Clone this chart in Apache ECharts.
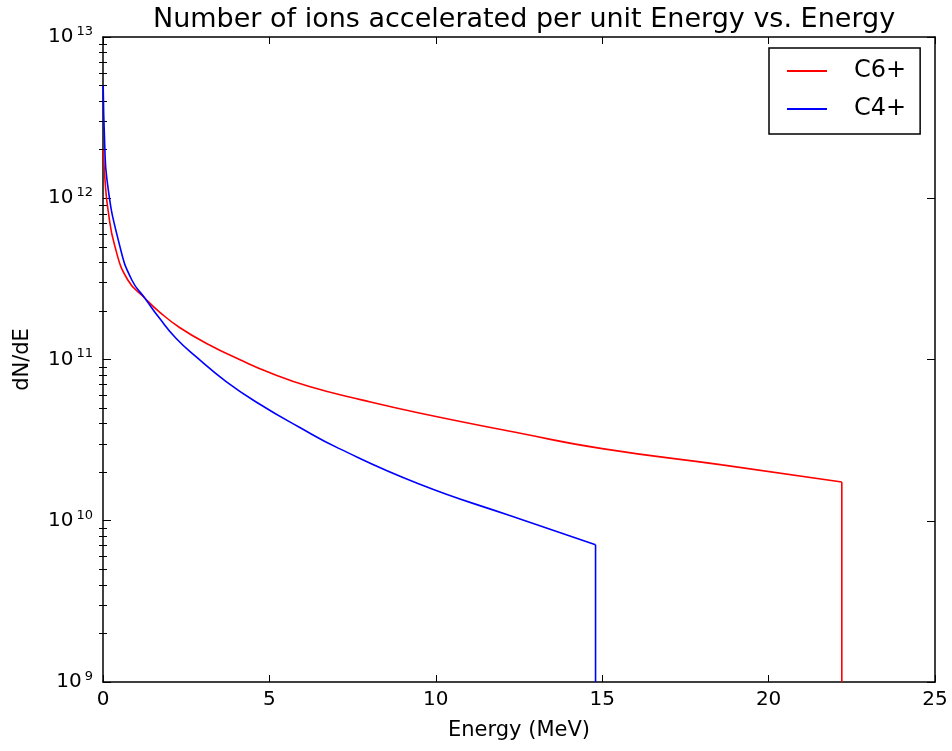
<!DOCTYPE html>
<html lang="en">
<head>
    <meta charset="UTF-8">
    <title>Number of ions accelerated per unit Energy vs. Energy</title>
    <script src="https://cdn.jsdelivr.net/npm/echarts@6/dist/echarts.min.js"></script>
</head>
<body style="margin:0;background:#fff;">
<div id="main" style="width:952px;height:751px;"></div>
<script>
    // C6+ spectrum (MeV, dN/dE)
    var energyC6 = [0.01, 0.06, 0.15, 0.36, 0.75, 1.26, 1.7, 2.3, 3.2, 4.1, 5.0, 6.2, 7.8, 9.5, 12.5, 15.0, 18.6, 22.2];
    var dndeC6 = [2.0e12, 1.3e12, 8.5e11, 5.0e11, 3.1e11, 2.4e11, 1.97e11, 1.58e11, 1.23e11, 1.0e11, 8.3e10, 6.8e10, 5.6e10, 4.66e10, 3.5e10, 2.8e10, 2.22e10, 1.74e10];
    var cutoffC6 = [[22.2, 1.74e10], [22.2, 1e9]];

    // C4+ spectrum
    var energyC4 = [0.005, 0.05, 0.12, 0.51, 0.87, 1.26, 1.7, 2.2, 2.82, 3.7, 4.7, 5.9, 7.1, 9.5, 12.2, 14.8];
    var dndeC4 = [5.0e12, 2.2e12, 1.3e12, 5.0e11, 3.1e11, 2.4e11, 1.8e11, 1.35e11, 1.03e11, 7.3e10, 5.3e10, 3.8e10, 2.8e10, 1.69e10, 1.08e10, 7.1e9];
    var cutoffC4 = [[14.8, 7.1e9], [14.8, 1e9]];

    var seriesNames = ['C6+', 'C4+'];
    var seriesColors = ['#ff0000', '#0000ff'];
    var xTicks = [0, 5, 10, 15, 20, 25];

    // minor log ticks (2..9 x 10^n), as exponents for the helper axes
    var minorTicks = [];
    for (var n = 9; n < 13; n++) {
        for (var k = 2; k < 10; k++) minorTicks.push(n + Math.log10(k));
    }

    function pairs(xs, ys) {
        return xs.map(function (x, i) { return [x, ys[i]]; });
    }

    var font = 'DejaVu Sans';
    var black = '#000';

    var chart = echarts.init(document.getElementById('main'));

    var frameLine = {show: true, onZero: false, lineStyle: {color: black, width: 1.5}};

    function curve(name, color, data, smooth) {
        return {
            name: name,
            type: 'line',
            xAxisIndex: 0,
            yAxisIndex: 0,
            symbol: 'none',
            smooth: smooth,
            clip: true,
            data: data,
            lineStyle: {color: color, width: 1.6},
            itemStyle: {color: color}
        };
    }

    option = {
        backgroundColor: '#fff',
        animation: false,
        textStyle: {fontFamily: font, color: black},
        title: {
            text: 'Number of ions accelerated per unit Energy vs. Energy',
            left: 148,
            top: 1,
            textStyle: {fontFamily: font, fontSize: 27, fontWeight: 'normal', color: black}
        },
        grid: {left: 103, right: 17, top: 37, bottom: 69, containLabel: false},
        legend: {
            data: seriesNames,
            orient: 'vertical',
            left: 769,
            top: 48,
            padding: [11, 14, 13, 18],
            icon: 'rect',
            itemWidth: 40,
            itemHeight: 2,
            itemGap: 14,
            borderColor: black,
            borderWidth: 1.5,
            borderRadius: 0,
            backgroundColor: '#fff',
            textStyle: {fontFamily: font, fontSize: 24, color: black, lineHeight: 24, padding: [0, 0, 0, 22]}
        },
        xAxis: [
            {
                type: 'value', position: 'bottom', min: xTicks[0], max: xTicks[xTicks.length - 1], interval: 5,
                name: 'Energy (MeV)', nameLocation: 'middle', nameGap: 38,
                nameTextStyle: {fontFamily: font, fontSize: 21, color: black},
                axisLine: frameLine,
                axisTick: {inside: true, length: 7, lineStyle: {color: black, width: 1}},
                axisLabel: {fontFamily: font, fontSize: 20, color: black, margin: 8},
                splitLine: {show: false}
            },
            {
                type: 'value', position: 'top', min: 0, max: 25, interval: 5,
                axisLine: frameLine,
                axisTick: {inside: true, length: 7, lineStyle: {color: black, width: 1}},
                axisLabel: {show: false},
                splitLine: {show: false}
            }
        ],
        yAxis: [
            {
                type: 'log', logBase: 10, position: 'left', min: 1e9, max: 1e13,
                name: 'dN/dE', nameLocation: 'middle', nameGap: 70,
                nameTextStyle: {fontFamily: font, fontSize: 21, color: black},
                axisLine: frameLine,
                axisTick: {inside: true, length: 8, lineStyle: {color: black, width: 1}},
                axisLabel: {
                    margin: 10,
                    formatter: function (v) {
                        return '{b|10}{s|' + Math.round(Math.log10(v)) + '}';
                    },
                    rich: {
                        b: {fontFamily: font, fontSize: 20, color: black, lineHeight: 24},
                        s: {fontFamily: font, fontSize: 13, color: black, verticalAlign: 'top', lineHeight: 13, padding: [0, 0, 0, 3]}
                    }
                },
                splitLine: {show: false}
            },
            {
                type: 'value', position: 'left', min: 9, max: 13,
                axisLine: {show: false},
                axisTick: {inside: true, length: 4, customValues: minorTicks, lineStyle: {color: black, width: 1}},
                axisLabel: {show: false},
                splitLine: {show: false}
            },
            {
                type: 'value', position: 'right', min: 9, max: 13, interval: 1,
                axisLine: frameLine,
                axisTick: {inside: true, length: 8, lineStyle: {color: black, width: 1}},
                axisLabel: {show: false},
                splitLine: {show: false}
            },
            {
                type: 'value', position: 'right', min: 9, max: 13,
                axisLine: {show: false},
                axisTick: {inside: true, length: 4, customValues: minorTicks, lineStyle: {color: black, width: 1}},
                axisLabel: {show: false},
                splitLine: {show: false}
            }
        ],
        series: [
            curve(seriesNames[0], seriesColors[0], pairs(energyC6, dndeC6), 0.5),
            curve(seriesNames[1], seriesColors[1], pairs(energyC4, dndeC4), 0.5),
            curve(seriesNames[0], seriesColors[0], cutoffC6, false),
            curve(seriesNames[1], seriesColors[1], cutoffC4, false)
        ]
    };

    chart.setOption(option);
</script>
</body>
</html>
